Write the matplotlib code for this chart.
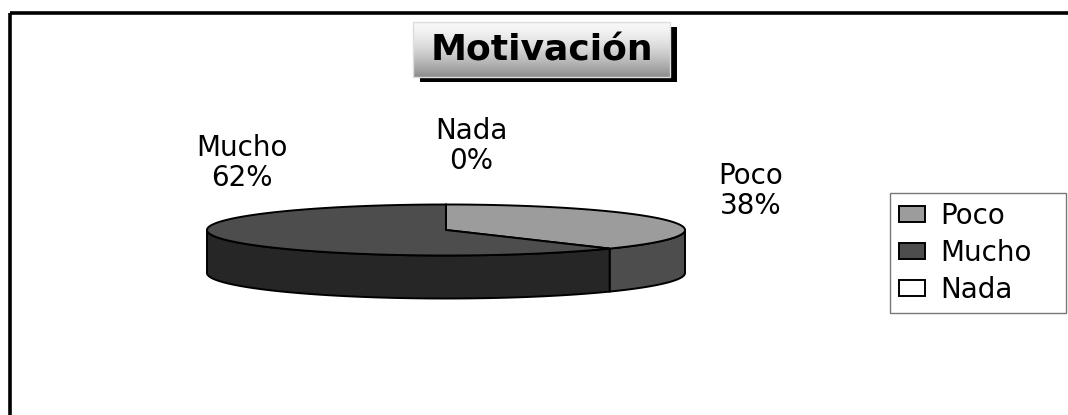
import numpy as np
import matplotlib
matplotlib.use('Agg')
import matplotlib.pyplot as plt
from matplotlib.patches import Polygon, Rectangle

# data
categories = ['Poco', 'Mucho', 'Nada']
values = [38, 62, 0]
top_colors = ['#9c9c9c', '#4d4d4d', '#ffffff']
side_colors = ['#4d4d4d', '#262626', '#e0e0e0']
title = 'Motivación'

plt.rcParams['font.family'] = ['DejaVu Sans']

W, H = 1068, 415
fig = plt.figure(figsize=(W / 100, H / 100), dpi=100)
ax = fig.add_axes([0, 0, 1, 1])
ax.set_xlim(0, W)
ax.set_ylim(H, 0)
ax.axis('off')

# outer chart frame (right/bottom cut off)
ax.add_patch(Rectangle((10, 13), W + 20, H + 20, fill=False, lw=2.6, ec='black', zorder=1))

# pie geometry (pixels)
cx, cy = 446, 230
rx, ry = 239, 25.5
depth = 43


def ell(t):
    return cx + rx * np.cos(t), cy - ry * np.sin(t)


total = float(sum(values))
start = np.pi / 2
handles = []
for name, v, tc, sc in zip(categories, values, top_colors, side_colors):
    sweep = 2 * np.pi * v / total
    t1, t2 = start, start - sweep  # clockwise
    # side wall: visible where sin(t) < 0 (front half)
    ts = np.linspace(t1, t2, 400) if sweep > 0 else np.array([t1])
    front = ts[np.sin(ts) < 0]
    if len(front) > 1:
        xs, ys = ell(front)
        pts = np.column_stack([np.r_[xs, xs[::-1]], np.r_[ys, ys[::-1] + depth]])
        ax.add_patch(Polygon(pts, closed=True, fc=sc, ec='black', lw=1.4, zorder=2))
    # top face
    xs, ys = ell(ts)
    pts = np.column_stack([np.r_[cx, xs], np.r_[cy, ys]])
    p = Polygon(pts, closed=True, fc=tc, ec='black', lw=1.4, zorder=3, label=name)
    ax.add_patch(p)
    handles.append(p)
    start = t2

# data labels
label_pos = [(751, 191), (242, 163), (471, 146)]
for name, v, (lx, ly) in zip(categories, values, label_pos):
    ax.text(lx, ly, f'{name}\n{v}%', ha='center', va='center', fontsize=20,
            linespacing=1.08, zorder=5)

# title box with gradient and shadow
bx0, by0, bx1, by1 = 413, 22, 670, 77
ax.add_patch(Rectangle((bx0 + 7, by0 + 5), bx1 - bx0, by1 - by0, fc='black', ec='none', zorder=4))
grad = np.linspace(0, 1, 100)[:, None]
grad = 0.97 - 0.42 * grad ** 1.6
ax.imshow(np.dstack([grad, grad, grad]), extent=(bx0, bx1, by1, by0), aspect='auto',
          interpolation='bilinear', zorder=5)
ax.add_patch(Rectangle((bx0, by0), bx1 - bx0, by1 - by0, fill=False, ec='#dddddd', lw=1, zorder=6))
ax.text((bx0 + bx1) / 2, (by0 + by1) / 2 + 1, title, ha='center', va='center',
        fontsize=26, fontweight='bold', zorder=7)
ax.set_xlim(0, W)
ax.set_ylim(H, 0)

# legend
leg = ax.legend(handles=handles, loc='upper left',
                bbox_to_anchor=(890 / W, 1 - 193 / H, (1066 - 890) / W, 0), mode='expand',
                fontsize=20, frameon=True, fancybox=False, handlelength=0.95, handleheight=0.5,
                handletextpad=0.55, labelspacing=0.33, borderpad=0.32, borderaxespad=0)
leg.get_frame().set_edgecolor('#555555')
leg.get_frame().set_linewidth(1.0)
leg.set_zorder(8)

fig.savefig('out.png', dpi=100)
